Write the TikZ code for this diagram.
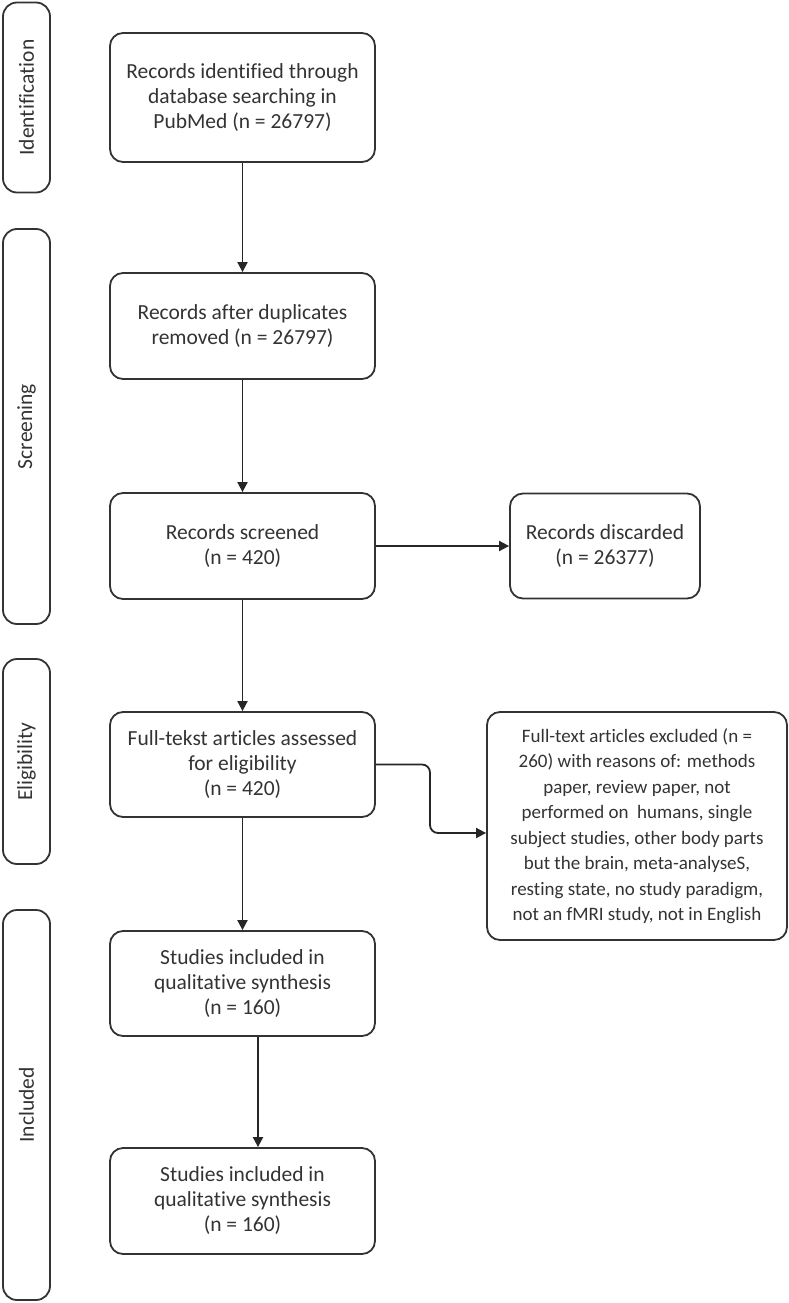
\documentclass[tikz,border=0pt]{standalone}
\usepackage{fontspec}
\setmainfont{Carlito}[Ligatures={NoCommon,NoContextual,NoRequired},Contextuals=NoAlternate]
\usetikzlibrary{arrows.meta,calc}
\begin{document}
\begin{tikzpicture}[x=1pt,y=-1pt,
  line width=1.8pt,
  every node/.style={font=\fontsize{21.5}{25}\selectfont, text=black!80},
  phase/.style={draw=black!80, rounded corners=14pt, minimum width=47pt, inner sep=0pt},
  stepbox/.style={draw=black!80, rounded corners=13pt, align=center, inner sep=0pt},
  smalltext/.style={font=\fontsize{19}{25.5}\selectfont},
  arr/.style={-{Triangle[length=10pt,width=10pt]}, draw=black!85},
]
\useasboundingbox (0,0) rectangle (788,1303);
% phase boxes
\node[phase, minimum height=190pt] (pid) at (26.5,97.5) {};
\node[rotate=90] (tid) at (pid.center) {Identifica\kern0pt tion};
\node[phase, minimum height=395pt] (pscr) at (26.5,426.5) {};
\node[rotate=90] (tscr) at (pscr.center) {Screening};
\node[phase, minimum height=205pt] (pel) at (26.5,761.5) {};
\node[rotate=90] (tel) at (pel.center) {Eligibility};
\node[phase, minimum height=390pt] (pin) at (26.5,1105) {};
\node[rotate=90] (tin) at (pin.center) {Included};
% main boxes
\node[stepbox, minimum width=265pt, minimum height=129pt] (b1) at (242.5,97.5)
  {Records identified through\\database searching in\\PubMed (n = 26797)};
\node[stepbox, minimum width=265pt, minimum height=106pt] (b2) at (242.5,326)
  {Records after duplicates\\removed (n = 26797)};
\node[stepbox, minimum width=265pt, minimum height=106pt] (b3) at (242.5,546)
  {Records screened\\(n = 420)};
\node[stepbox, minimum width=190pt, minimum height=105pt] (disc) at (605,546)
  {Records discarded\\(n = 26377)};
\node[stepbox, minimum width=265pt, minimum height=105pt] (b4) at (242.5,764.5)
  {Full-tekst articles assessed\\for eligibility\\(n = 420)};
\node[stepbox, smalltext, minimum width=300pt, minimum height=228pt] (excl) at (637,826)
  {Full-text articles excluded (n =\\260) with reasons of: methods\\paper, review paper, not\\performed on\ \ humans, single\\subject studies, other body parts\\but the brain, meta-analyseS,\\resting state, no study paradigm,\\not an fMRI study, not in English};
\node[stepbox, minimum width=265pt, minimum height=105pt] (b5) at (242.5,983.5)
  {Studies included in\\quali\kern0pt ta\kern0pt tive synthesis\\(n = 160)};
\node[stepbox, minimum width=265pt, minimum height=106pt] (b6) at (242.5,1201)
  {Studies included in\\quali\kern0pt ta\kern0pt tive synthesis\\(n = 160)};
% connectors
\draw[arr] (b1) -- (b2);
\draw[arr] (b2) -- (b3);
\draw[arr] (b3) -- (disc);
\draw[arr] (b3) -- (b4);
\draw[arr] (b4) -- (b5);
\coordinate (c56) at (258,0);
\draw[arr] (b5.south -| c56) -- (b6.north -| c56);
\coordinate (elbx) at (430,833);
\draw[arr, rounded corners=8pt] (b4.east) -| (elbx) -- (elbx -| excl.west);
\end{tikzpicture}
\end{document}
